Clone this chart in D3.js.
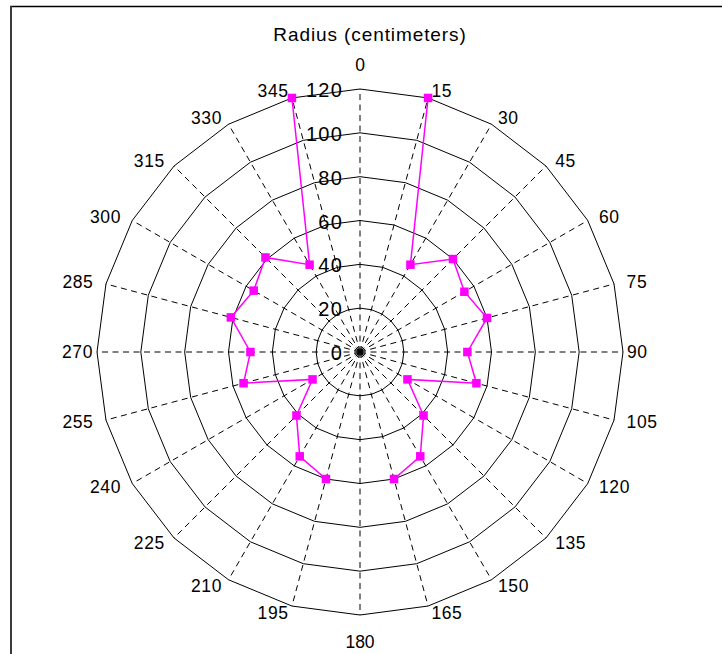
<!DOCTYPE html>
<html>
<head>
<meta charset="utf-8">
<script src="https://cdn.jsdelivr.net/npm/d3@7"></script>
<style>
  html, body { margin: 0; padding: 0; background: #fff; }
  svg { display: block; }
  text { font-family: "Liberation Sans", Arial, sans-serif; fill: #000; }
</style>
</head>
<body>
<svg id="chart" width="722" height="654"></svg>
<script>
// ---- data ----
const angleTicks = [0, 15, 30, 45, 60, 75, 90, 105, 120, 135, 150, 165,
                    180, 195, 210, 225, 240, 255, 270, 285, 300, 315, 330, 345];
const radiusTicks = [0, 20, 40, 60, 80, 100, 120];
const radiusValues = [null, 120, 46, 60, 55, 60, 49, 55, 25, 41, 55, 60,
                      null, 60, 55, 41, 25, 55, 50, 61, 56, 61, 46, 120];
const title = "Radius (centimeters)";

// ---- layout ----
const svg = d3.select("#chart");
const cx = 360, cy = 352;
const rMax = 263;
const r = d3.scaleLinear().domain([0, 120]).range([0, rMax]);
const toRad = d => d * Math.PI / 180;

// border
svg.append("line").attr("x1", 10).attr("x2", 722).attr("y1", 6.5).attr("y2", 6.5)
  .attr("stroke", "#000").attr("stroke-width", 1.5);
svg.append("line").attr("x1", 11).attr("x2", 11).attr("y1", 6).attr("y2", 654)
  .attr("stroke", "#3a3a3a").attr("stroke-width", 2);

const g = svg.append("g").attr("transform", `translate(${cx},${cy})`);

// rings
const ringLine = d3.lineRadial()
  .angle(d => toRad(d))
  .curve(d3.curveLinearClosed);
g.selectAll("path.ring")
  .data(radiusTicks.filter(t => t > 0))
  .join("path")
  .attr("class", "ring")
  .attr("d", t => ringLine.radius(() => r(t))(angleTicks))
  .attr("fill", "none")
  .attr("stroke", "#000")
  .attr("stroke-width", 1);

// spokes
g.selectAll("line.spoke")
  .data(angleTicks)
  .join("line")
  .attr("class", "spoke")
  .attr("x1", 0).attr("y1", 0)
  .attr("x2", a => r(120) * Math.sin(toRad(a)))
  .attr("y2", a => -r(120) * Math.cos(toRad(a)))
  .attr("stroke", "#000")
  .attr("stroke-width", 1)
  .attr("stroke-dasharray", "6,4.5");

// ring labels
g.selectAll("text.rlab")
  .data(radiusTicks)
  .join("text")
  .attr("class", "rlab")
  .attr("x", -17)
  .attr("y", t => -r(t) + 8)
  .attr("text-anchor", "end")
  .attr("font-size", 20)
  .attr("letter-spacing", 1.2)
  .text(t => t);

// angle labels (Excel-style placement: boxes sit outside the plot)
const labRx = 276, labRxSide = 267, labRy = 270, labTop = 282;
g.selectAll("text.alab")
  .data(angleTicks)
  .join("text")
  .attr("class", "alab")
  .attr("x", a => {
    if (a === 0 || a === 180) return 0;
    const rx = (a === 90 || a === 270) ? labRxSide : labRx;
    return rx * Math.sin(toRad(a));
  })
  .attr("y", a => {
    if (a === 0) return -labTop + 1;
    if (a === 180) return labTop + 14;
    return -labRy * Math.cos(toRad(a)) + 6;
  })
  .attr("text-anchor", a => (a === 0 || a === 180) ? "middle" : (a < 180 ? "start" : "end"))
  .attr("font-size", 17.5)
  .attr("letter-spacing", a => (a === 0 || a === 180) ? 0 : 0.6)
  .text(a => a);

// title
svg.append("text")
  .attr("x", 370).attr("y", 41)
  .attr("text-anchor", "middle")
  .attr("font-size", 19)
  .attr("letter-spacing", 0.9)
  .text(title);

// data
const pts = angleTicks.map((a, i) => ({ a, v: radiusValues[i] }));
const dataLine = d3.lineRadial()
  .defined(d => d.v !== null)
  .angle(d => toRad(d.a))
  .radius(d => r(d.v));
g.append("path")
  .attr("d", dataLine(pts))
  .attr("fill", "none")
  .attr("stroke", "#ff00ff")
  .attr("stroke-width", 1.5);

const sz = 8.5;
g.selectAll("rect.mk")
  .data(pts.filter(d => d.v !== null))
  .join("rect")
  .attr("class", "mk")
  .attr("x", d => r(d.v) * Math.sin(toRad(d.a)) - sz / 2)
  .attr("y", d => -r(d.v) * Math.cos(toRad(d.a)) - sz / 2)
  .attr("width", sz).attr("height", sz)
  .attr("fill", "#ff00ff");
</script>
</body>
</html>
